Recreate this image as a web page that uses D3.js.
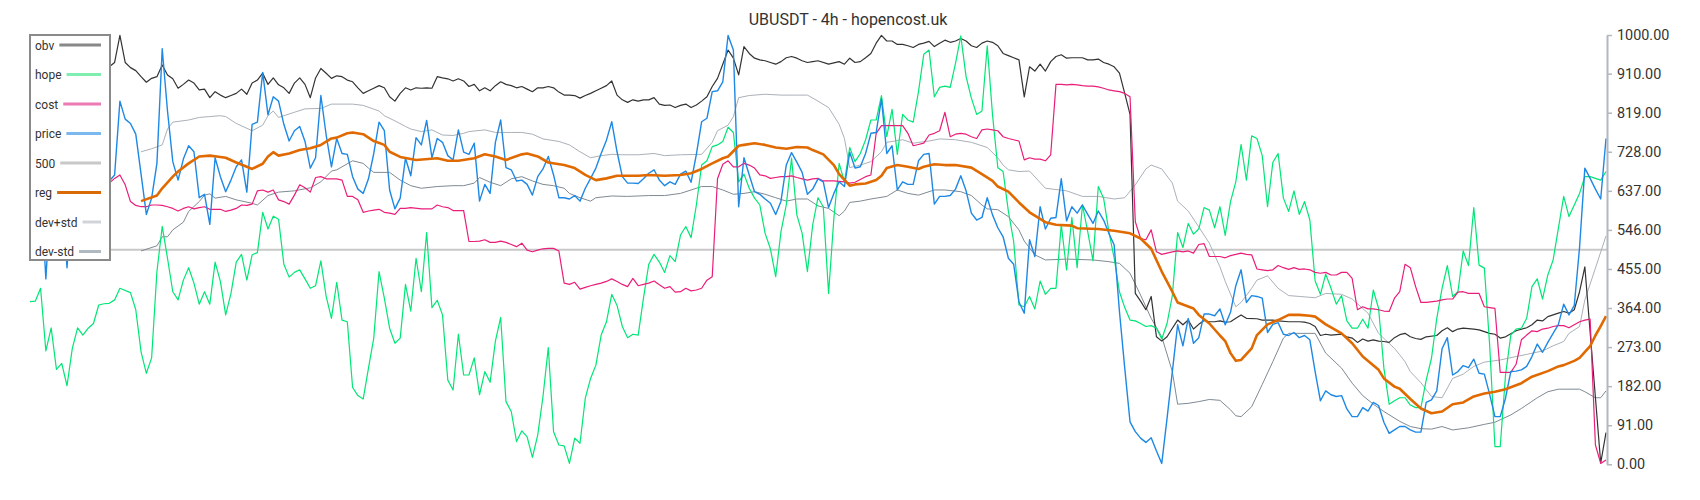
<!DOCTYPE html>
<html><head><meta charset="utf-8">
<script src="https://cdn.jsdelivr.net/npm/d3@7"></script>
<style>html,body{margin:0;padding:0;background:#fff;} svg{display:block;font-family:Roboto,"Noto Sans",sans-serif;}</style>
</head><body><svg id="chart" width="1700" height="500"></svg>
<script>
const titleText = "UBUSDT - 4h - hopencost.uk";
const yTicks = [0,91,182,273,364,455,546,637,728,819,910,1000];
const level500 = 500;
const lastIndex = 298;
const legendNames = ["obv","hope","cost","price","500","reg","dev+std","dev-std"];

const obvData = [[0,880],[3,905],[6,890],[9,910],[12,900],[15,926],[16,936],[17,999],[18,936],[19,924],[20,917],[21,903],[22,890],[23,899],[24,903],[25,930],[26,907],[27,898],[28,876],[29,885],[30,895],[31,888],[32,872],[33,874],[34,854],[35,868],[36,860],[37,854],[38,859],[39,864],[40,874],[41,862],[42,888],[43,895],[44,911],[45,885],[46,900],[47,884],[48,877],[49,864],[50,888],[51,900],[52,885],[53,854],[54,900],[55,922],[56,911],[57,899],[58,905],[59,903],[60,895],[61,891],[62,877],[63,864],[64,870],[65,876],[66,882],[67,877],[68,856],[69,846],[70,864],[71,877],[72,872],[73,877],[74,876],[75,877],[76,876],[77,903],[78,900],[79,898],[80,893],[81,898],[82,893],[83,880],[84,885],[85,870],[86,877],[87,870],[88,882],[89,891],[90,885],[91,882],[92,877],[93,880],[94,874],[95,868],[96,877],[97,877],[98,880],[99,877],[100,867],[101,860],[102,860],[103,859],[104,853],[105,859],[106,864],[107,870],[108,876],[109,882],[110,893],[111,860],[112,849],[113,843],[114,849],[115,846],[116,849],[117,849],[118,854],[119,839],[120,836],[121,837],[122,831],[123,836],[124,839],[125,831],[126,837],[127,846],[128,856],[129,880],[130,899],[131,932],[132,965],[133,946],[134,907],[135,973],[136,957],[137,946],[138,942],[139,940],[140,936],[141,932],[142,938],[143,947],[144,950],[145,946],[146,940],[147,936],[148,938],[149,940],[151,932],[153,938],[154,932],[155,946],[156,936],[157,938],[158,947],[159,957],[160,981],[161,999],[162,986],[163,986],[164,978],[165,978],[166,975],[167,971],[168,978],[169,981],[170,985],[171,973],[172,981],[173,988],[174,983],[175,986],[176,992],[177,986],[178,975],[179,971],[180,981],[181,986],[182,983],[183,975],[184,957],[185,952],[186,947],[187,942],[188,856],[189,926],[190,916],[191,932],[192,916],[193,938],[194,950],[195,954],[196,946],[197,947],[199,947],[200,942],[201,942],[202,944],[203,936],[204,932],[205,926],[206,911],[207,864],[208,815],[209,398],[210,380],[211,360],[212,391],[213,297],[214,287],[215,297],[216,317],[217,336],[218,325],[219,336],[220,315],[221,326],[222,335],[223,332],[224,332],[225,334],[226,331],[227,332],[228,340],[229,348],[230,340],[232,339],[233,336],[235,336],[236,334],[238,332],[240,332],[241,331],[242,328],[243,321],[244,300],[245,303],[246,301],[248,303],[249,297],[250,294],[251,284],[252,292],[253,287],[254,290],[255,287],[256,286],[257,284],[258,295],[259,302],[260,305],[261,297],[262,293],[263,291],[264,297],[266,300],[267,311],[268,318],[269,309],[270,315],[271,317],[273,315],[274,313],[276,305],[277,303],[278,294],[279,297],[281,311],[283,318],[284,325],[285,336],[286,334],[287,344],[288,348],[289,352],[290,356],[291,352],[292,360],[293,402],[294,460],[297,3],[298,74]];

const hopeData = [[0,379],[1,380],[2,410],[3,264],[4,318],[5,221],[6,235],[7,183],[8,270],[9,318],[10,301],[11,317],[12,328],[13,371],[14,374],[15,375],[16,383],[17,410],[19,400],[20,360],[21,262],[22,212],[23,248],[24,449],[25,554],[26,480],[27,402],[28,383],[29,429],[30,458],[31,422],[32,373],[33,402],[34,373],[35,471],[36,426],[37,348],[38,398],[39,471],[40,489],[41,429],[42,488],[43,493],[44,587],[45,548],[46,578],[47,571],[48,466],[49,436],[50,447],[51,453],[52,432],[53,410],[54,416],[55,474],[56,391],[57,340],[58,424],[59,336],[60,332],[61,179],[62,160],[63,152],[64,224],[65,294],[66,449],[67,387],[68,317],[69,282],[70,294],[71,419],[72,357],[73,480],[74,402],[75,540],[76,365],[77,382],[78,348],[79,196],[80,173],[81,303],[82,208],[83,208],[84,248],[85,162],[86,216],[87,191],[88,287],[89,342],[90,146],[91,123],[92,53],[93,78],[94,64],[95,16],[96,68],[97,158],[98,272],[99,76],[100,45],[101,43],[102,2],[103,61],[104,49],[105,154],[106,200],[107,231],[108,301],[109,332],[110,396],[111,370],[112,321],[113,295],[114,303],[115,301],[116,387],[117,466],[118,489],[119,471],[120,447],[121,486],[122,472],[123,534],[124,554],[125,528],[126,604],[127,697],[128,707],[129,740],[130,744],[131,752],[132,785],[133,773],[134,658],[135,676],[136,643],[137,620],[138,604],[139,538],[140,502],[141,437],[142,542],[143,604],[144,713],[145,581],[146,538],[147,449],[148,558],[149,621],[150,600],[151,398],[152,573],[153,701],[154,658],[155,738],[156,705],[157,724],[158,756],[159,802],[160,802],[161,859],[162,763],[163,827],[164,722],[165,815],[166,802],[167,797],[168,868],[169,955],[170,965],[171,856],[172,878],[173,881],[174,878],[175,934],[176,998],[177,903],[178,853],[179,815],[180,823],[181,975],[182,814],[183,691],[184,682],[185,589],[186,519],[187,371],[188,367],[189,391],[190,362],[191,427],[192,396],[193,410],[194,410],[195,558],[196,453],[197,575],[198,458],[199,604],[200,542],[201,474],[202,647],[203,620],[204,542],[205,480],[206,402],[207,365],[208,336],[209,334],[210,328],[211,321],[212,323],[213,317],[214,292],[215,328],[216,393],[217,540],[218,505],[219,561],[220,536],[221,548],[222,598],[223,592],[224,551],[225,600],[226,533],[227,612],[228,658],[229,745],[230,662],[231,765],[232,759],[233,719],[234,600],[235,703],[236,724],[237,620],[238,589],[239,637],[240,582],[241,612],[242,569],[243,427],[244,396],[245,443],[246,410],[247,373],[248,393],[249,334],[250,317],[251,317],[252,338],[253,317],[254,406],[255,363],[256,224],[257,140],[258,148],[259,155],[260,155],[261,138],[262,132],[263,132],[264,196],[265,247],[266,340],[267,410],[268,463],[269,391],[270,402],[271,497],[272,463],[273,598],[274,464],[275,457],[276,278],[277,41],[278,41],[279,208],[280,301],[281,315],[282,317],[283,340],[284,414],[285,432],[286,385],[287,441],[288,476],[289,550],[290,624],[291,577],[292,604],[293,631],[294,670],[295,670],[296,666],[297,662],[298,682]];

const costData = [[0,802],[3,720],[6,690],[9,670],[12,660],[15,655],[16,666],[17,674],[18,651],[19,612],[20,603],[21,600],[22,600],[23,604],[24,604],[25,603],[26,600],[27,596],[28,590],[29,596],[30,600],[31,595],[32,598],[33,600],[34,594],[36,594],[37,589],[38,592],[39,596],[40,604],[41,603],[42,606],[43,637],[44,639],[45,634],[46,639],[47,616],[48,612],[49,606],[50,627],[51,651],[52,644],[53,634],[54,668],[55,670],[56,665],[57,665],[58,665],[59,662],[60,624],[61,624],[62,616],[63,587],[64,590],[65,592],[66,594],[67,587],[68,585],[69,582],[70,596],[71,596],[72,598],[74,595],[76,595],[77,604],[78,600],[79,598],[80,591],[82,591],[83,519],[84,519],[85,520],[86,523],[87,517],[88,517],[89,520],[90,517],[91,512],[92,507],[93,515],[94,499],[95,495],[96,499],[97,502],[98,503],[99,503],[100,497],[101,422],[102,419],[103,424],[104,408],[105,412],[106,416],[107,419],[108,422],[109,426],[110,432],[111,426],[112,419],[113,414],[114,433],[115,416],[116,419],[117,422],[118,427],[119,418],[120,410],[121,414],[122,401],[123,402],[124,410],[125,404],[126,406],[127,410],[128,429],[129,437],[130,665],[131,699],[132,707],[133,693],[134,693],[135,701],[136,697],[137,690],[138,674],[139,672],[140,666],[141,668],[142,670],[143,670],[144,672],[145,668],[146,665],[147,662],[148,665],[149,666],[150,660],[152,660],[154,658],[155,655],[156,657],[158,670],[159,674],[160,771],[161,789],[165,789],[166,771],[167,742],[168,745],[169,748],[170,767],[171,771],[172,777],[173,820],[174,763],[175,769],[176,771],[177,769],[178,763],[179,759],[180,779],[181,781],[182,779],[183,777],[184,763],[185,759],[186,756],[187,753],[188,709],[189,714],[190,711],[191,711],[192,707],[193,721],[194,885],[195,885],[196,884],[197,885],[198,884],[199,882],[200,881],[201,881],[202,879],[203,876],[204,872],[205,870],[206,868],[207,864],[208,856],[209,565],[210,526],[211,523],[212,546],[213,495],[214,489],[215,492],[216,495],[217,497],[218,495],[219,497],[220,492],[221,512],[222,514],[223,484],[224,484],[225,484],[226,481],[227,486],[228,489],[229,492],[230,489],[231,488],[232,455],[233,453],[234,451],[235,453],[236,463],[237,458],[238,454],[239,458],[240,454],[241,455],[242,453],[243,447],[244,445],[245,447],[246,441],[247,441],[248,447],[249,447],[250,433],[251,360],[252,367],[253,362],[254,362],[255,360],[256,357],[257,356],[258,387],[259,402],[260,466],[261,458],[262,414],[263,377],[264,377],[266,380],[267,383],[268,385],[269,385],[270,401],[271,402],[272,398],[273,398],[274,398],[275,367],[276,365],[277,363],[278,214],[279,214],[280,214],[281,233],[282,290],[283,301],[284,311],[285,309],[286,315],[287,317],[288,321],[289,323],[290,323],[291,318],[292,325],[293,332],[294,336],[295,338],[296,45],[297,2],[298,10]];

const priceData = [[0,640],[1,700],[2,650],[3,432],[4,640],[5,690],[6,640],[7,458],[8,650],[9,700],[10,680],[11,720],[12,690],[13,660],[14,650],[15,660],[16,674],[17,846],[18,804],[19,794],[20,769],[21,676],[22,582],[23,620],[24,701],[25,968],[26,823],[27,705],[28,662],[29,711],[30,742],[31,728],[32,621],[33,629],[34,559],[35,714],[36,670],[37,635],[38,662],[39,693],[40,709],[41,634],[42,792],[43,797],[44,913],[45,814],[46,856],[47,846],[48,792],[49,753],[50,777],[51,787],[52,752],[53,690],[54,714],[55,859],[56,767],[57,693],[58,759],[59,724],[60,722],[61,670],[62,641],[63,631],[64,665],[65,724],[66,797],[67,777],[68,639],[69,595],[70,620],[71,713],[72,672],[73,761],[74,744],[75,801],[76,714],[77,759],[78,750],[79,719],[80,709],[81,779],[82,727],[83,722],[84,748],[85,613],[86,652],[87,631],[88,750],[89,802],[90,691],[91,686],[92,660],[93,662],[94,652],[95,627],[96,670],[97,688],[98,717],[99,674],[100,621],[101,621],[102,618],[103,626],[104,613],[105,643],[106,666],[107,690],[108,724],[109,755],[110,798],[111,728],[112,670],[113,655],[114,655],[115,654],[116,665],[117,678],[118,686],[119,662],[120,649],[121,658],[122,652],[123,676],[124,683],[125,657],[126,722],[127,798],[128,806],[129,868],[130,870],[131,891],[132,999],[133,965],[134,600],[135,714],[136,674],[137,635],[138,629],[139,618],[140,608],[141,582],[142,613],[143,697],[144,726],[145,704],[146,680],[147,629],[148,641],[149,665],[150,658],[151,598],[152,631],[153,658],[154,647],[155,727],[156,690],[157,693],[158,724],[159,771],[160,773],[161,851],[162,724],[163,742],[164,639],[165,658],[166,652],[167,652],[168,707],[169,722],[170,724],[171,606],[172,624],[173,624],[174,626],[175,641],[176,672],[177,637],[178,585],[179,569],[180,575],[181,621],[182,581],[183,551],[184,530],[185,480],[186,466],[187,378],[188,352],[189,523],[190,484],[191,600],[192,548],[193,573],[194,575],[195,665],[196,567],[197,600],[198,585],[199,604],[200,582],[201,561],[202,590],[203,569],[204,538],[205,511],[206,356],[207,224],[208,99],[209,76],[210,61],[211,51],[212,62],[213,31],[214,2],[215,107],[216,216],[217,325],[218,276],[219,340],[220,282],[221,295],[222,350],[223,350],[224,346],[225,362],[226,325],[227,354],[228,416],[229,453],[230,377],[231,393],[232,391],[233,387],[234,307],[235,326],[236,330],[237,303],[238,300],[239,307],[240,295],[241,300],[242,290],[243,216],[244,148],[245,171],[246,162],[247,158],[248,160],[249,129],[250,111],[251,111],[252,132],[253,124],[254,144],[255,137],[256,98],[257,72],[258,80],[259,88],[260,88],[261,80],[262,75],[263,75],[264,144],[265,150],[266,171],[267,269],[268,295],[269,208],[270,216],[271,230],[272,225],[273,245],[274,212],[275,210],[276,163],[277,111],[278,111],[279,154],[280,216],[281,217],[282,220],[283,228],[284,251],[285,280],[286,261],[287,284],[288,305],[289,326],[290,373],[291,348],[292,370],[293,505],[294,690],[295,666],[296,641],[297,618],[298,759]];

const regData = [[21,613],[24,626],[25,643],[27,670],[28,682],[30,701],[32,717],[34,719],[36,716],[37,714],[39,703],[41,693],[42,688],[44,700],[45,717],[46,727],[47,719],[49,724],[51,732],[53,736],[55,744],[57,759],[58,761],[60,771],[61,773],[63,769],[65,753],[67,744],[68,728],[70,716],[73,709],[77,713],[79,707],[81,707],[84,713],[86,722],[88,717],[90,709],[93,722],[94,724],[96,717],[98,703],[101,697],[103,690],[105,674],[107,662],[109,666],[111,672],[113,672],[115,672],[117,674],[120,672],[123,674],[125,678],[127,688],[129,701],[131,713],[132,717],[134,742],[135,744],[137,748],[139,744],[141,738],[143,735],[145,739],[147,738],[148,732],[150,722],[152,697],[153,676],[155,649],[156,652],[158,654],[160,662],[161,672],[162,690],[164,697],[166,693],[168,688],[169,693],[171,699],[173,697],[175,697],[178,691],[180,676],[182,660],[183,647],[185,635],[187,610],[189,587],[192,564],[194,558],[197,556],[198,550],[202,548],[205,544],[208,538],[210,526],[212,502],[214,449],[216,402],[217,377],[220,363],[221,348],[223,328],[225,300],[226,287],[227,259],[228,241],[229,243],[231,270],[232,301],[234,326],[236,336],[238,348],[240,348],[242,346],[243,344],[245,326],[248,305],[250,282],[252,251],[255,220],[256,200],[258,181],[259,176],[261,152],[263,130],[265,119],[267,123],[269,140],[271,144],[273,158],[275,165],[277,169],[279,175],[282,189],[284,204],[287,217],[289,228],[290,231],[292,241],[293,248],[295,275],[296,300],[297,322],[298,345]];

const devPlusData = [[21,728],[23,735],[25,744],[26,781],[27,797],[30,802],[32,808],[34,810],[36,812],[37,810],[39,794],[42,777],[44,790],[45,812],[46,823],[47,808],[50,820],[52,828],[55,829],[57,839],[61,839],[63,836],[66,823],[67,812],[69,800],[71,787],[72,781],[74,775],[76,779],[78,767],[80,766],[82,771],[83,775],[86,779],[88,773],[91,773],[93,773],[95,769],[97,758],[100,752],[102,744],[104,728],[106,714],[108,719],[110,722],[112,721],[115,721],[118,724],[120,719],[123,721],[127,722],[129,750],[130,777],[132,790],[133,810],[134,854],[136,859],[139,862],[142,860],[145,860],[147,860],[149,846],[151,831],[153,792],[154,759],[155,691],[157,697],[159,705],[161,728],[162,750],[165,756],[167,748],[170,753],[172,758],[175,756],[178,750],[181,738],[183,714],[184,697],[185,686],[187,682],[189,683],[192,643],[196,637],[199,624],[202,624],[205,618],[207,621],[209,651],[211,688],[212,697],[214,688],[216,655],[217,613],[219,590],[221,553],[223,515],[225,460],[226,426],[228,367],[229,377],[231,410],[232,429],[234,439],[236,410],[238,393],[240,391],[243,388],[245,398],[248,396],[250,385],[253,352],[255,305],[258,270],[259,255],[260,239],[261,216],[263,190],[265,158],[267,155],[269,200],[271,210],[273,228],[275,238],[278,243],[281,251],[283,256],[286,264],[288,276],[290,286],[291,305],[293,321],[294,383],[296,457],[298,532]];

const devMinusData = [[21,497],[24,509],[25,530],[26,530],[27,546],[29,564],[30,589],[32,612],[33,627],[34,630],[35,620],[37,624],[39,616],[42,608],[43,604],[45,626],[47,634],[50,637],[53,644],[55,658],[57,683],[58,686],[61,707],[63,701],[64,690],[65,680],[68,680],[70,662],[72,649],[74,643],[77,647],[80,649],[82,649],[84,655],[85,668],[87,657],[89,649],[91,665],[93,670],[95,660],[97,652],[99,649],[101,643],[102,631],[104,621],[106,613],[107,621],[110,625],[113,624],[117,626],[120,626],[123,631],[125,639],[127,647],[129,647],[131,639],[133,629],[135,631],[137,635],[139,629],[141,621],[143,613],[145,618],[147,618],[149,602],[151,596],[153,579],[154,590],[155,610],[157,613],[159,618],[162,624],[164,639],[166,631],[168,627],[171,639],[173,639],[176,635],[178,626],[180,604],[181,595],[183,593],[185,577],[187,546],[188,520],[190,488],[192,476],[196,478],[201,476],[204,472],[206,468],[208,445],[210,394],[212,340],[214,297],[216,216],[217,140],[219,142],[221,146],[223,151],[225,149],[227,127],[228,113],[229,111],[231,134],[233,186],[235,239],[237,294],[238,305],[243,305],[245,259],[248,224],[250,189],[252,160],[254,140],[256,123],[259,100],[261,88],[263,83],[265,82],[267,88],[269,80],[272,85],[275,93],[277,98],[280,115],[282,130],[285,155],[287,169],[289,175],[291,175],[293,175],[294,169],[296,155],[297,155],[298,171]];

const svg = d3.select("#chart");
const x = d3.scaleLinear().domain([0, lastIndex]).range([30, 1606]);
const y = d3.scaleLinear().domain([0, 1000]).range([464.3, 35]);
const line = d3.line().x(d => x(d[0])).y(d => y(d[1]));

// 500 level line
svg.append("line")
  .attr("x1", x(0)).attr("x2", 1607)
  .attr("y1", y(level500)).attr("y2", y(level500))
  .attr("stroke", "#c8c8c8").attr("stroke-width", 2);

const series = [
  {data: devMinusData, color: "#7f8a93", width: 1},
  {data: devPlusData,  color: "#aab1b8", width: 1},
  {data: obvData,      color: "#333333", width: 1.2},
  {data: hopeData,     color: "#00e676", width: 1.2},
  {data: costData,     color: "#e91e7a", width: 1.2},
  {data: priceData,    color: "#1e88e5", width: 1.4},
  {data: regData,      color: "#e06a00", width: 2.6}
];
series.forEach(s => {
  svg.append("path").datum(s.data)
    .attr("d", line).attr("fill", "none")
    .attr("stroke", s.color).attr("stroke-width", s.width)
    .attr("stroke-linejoin", "round");
});

// right axis
const axis = d3.axisRight(y).tickValues(yTicks)
  .tickFormat(d => d.toFixed(2)).tickSizeInner(5).tickSizeOuter(0).tickPadding(5);
const ag = svg.append("g").attr("transform", "translate(1607,0)").call(axis);
ag.select(".domain").attr("stroke", "#b0b8c0").attr("stroke-width", 2);
ag.selectAll(".tick line").attr("stroke", "#b0b8c0").attr("stroke-width", 1.5);
ag.selectAll(".tick text").attr("fill", "#333").style("font-size", "14.4px")
  .style("font-family", "Roboto, sans-serif");

// title
svg.append("text").attr("x", 848).attr("y", 25).attr("text-anchor", "middle")
  .attr("fill", "#333").style("font-size", "16px").text(titleText);

// legend
const swatchColors = ["#888888","#80eeb0","#ec7ab3","#7ab8ee","#c8c8c8","#d96a08","#d0d4d8","#b0b8c0"];
const lg = svg.append("g");
lg.append("rect").attr("x", 30).attr("y", 35).attr("width", 80).attr("height", 225)
  .attr("fill", "#fff").attr("stroke", "#8a8a8a").attr("stroke-width", 2);
legendNames.forEach((n, k) => {
  const cy = 45 + k * 29.5;
  const t = lg.append("text").attr("x", 35).attr("y", cy + 4.5)
    .attr("fill", "#333").style("font-size", "12px").text(n);
  const w = t.node().getComputedTextLength();
  lg.append("line").attr("x1", 35 + w + 5).attr("x2", 101).attr("y1", cy).attr("y2", cy)
    .attr("stroke", swatchColors[k]).attr("stroke-width", 3);
});
</script>
</body></html>
